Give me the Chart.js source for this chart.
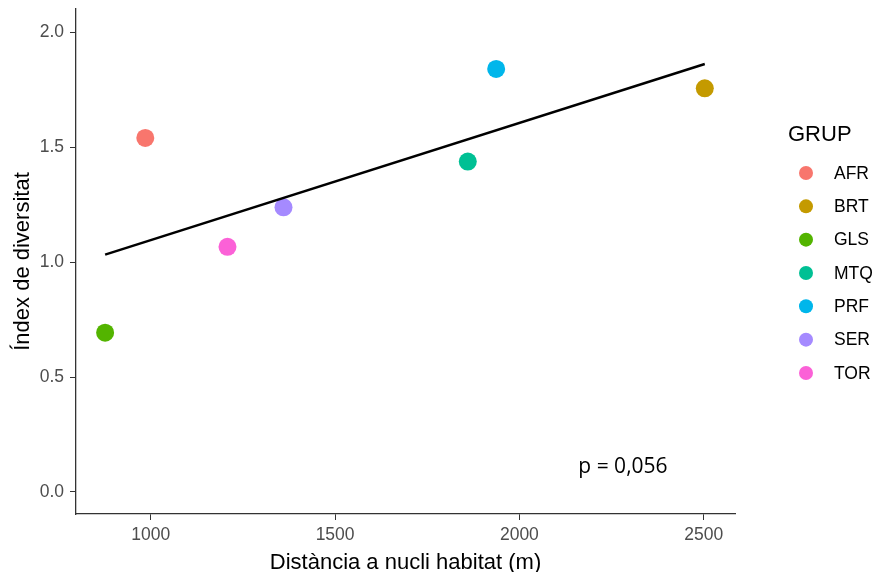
<!DOCTYPE html>
<html>
<head>
<meta charset="utf-8">
<script src="https://cdn.jsdelivr.net/npm/chart.js@4"></script>
<style>
  html, body { margin: 0; padding: 0; background: #fff; }
  #wrap { width: 875px; height: 572px; }
</style>
</head>
<body>
<div id="wrap"><canvas id="chart"></canvas></div>
<script>
const grups = ["AFR", "BRT", "GLS", "MTQ", "PRF", "SER", "TOR"];
const distancia = [985, 2503, 876, 1860, 1937, 1360, 1208];
const diversitat = [1.541, 1.757, 0.693, 1.438, 1.841, 1.239, 1.067];
const colors = ["#F8766D", "#C49A00", "#53B400", "#00C094", "#00B6EB", "#A58AFF", "#FB61D7"];
const xTicks = [1000, 1500, 2000, 2500];
const yTicks = [0, 0.5, 1.0, 1.5, 2.0];
const pLabel = "p = 0,056";

const FONT = "'Liberation Sans', Arial, sans-serif";

// least squares fit for the trend line
const n = distancia.length;
const mx = distancia.reduce((a, b) => a + b, 0) / n;
const my = diversitat.reduce((a, b) => a + b, 0) / n;
let sxy = 0, sxx = 0;
for (let i = 0; i < n; i++) {
  sxy += (distancia[i] - mx) * (diversitat[i] - my);
  sxx += (distancia[i] - mx) ** 2;
}
const slope = sxy / sxx;
const icpt = my - slope * mx;
const xMin = Math.min(...distancia), xMax = Math.max(...distancia);

const datasets = grups.map((g, i) => ({
  type: "scatter",
  label: g,
  data: [{ x: distancia[i], y: diversitat[i] }],
  backgroundColor: colors[i],
  borderWidth: 0,
  pointRadius: 9,
  pointHoverRadius: 9,
  order: 1
}));
datasets.push({
  type: "line",
  label: "fit",
  data: [{ x: xMin, y: icpt + slope * xMin }, { x: xMax, y: icpt + slope * xMax }],
  borderColor: "#000",
  borderWidth: 2.5,
  pointRadius: 0,
  fill: false,
  order: 0
});

// legend on the right + p-value text
const extras = {
  id: "extras",
  afterDraw(chart) {
    const ctx = chart.ctx;
    ctx.save();
    ctx.textBaseline = "middle";
    ctx.textAlign = "left";
    ctx.fillStyle = "#000";
    ctx.font = "22px " + FONT;
    ctx.fillText("GRUP", 788, 135);
    ctx.font = "17.5px " + FONT;
    grups.forEach((g, i) => {
      const y = 173 + i * 33.33;
      ctx.beginPath();
      ctx.fillStyle = colors[i];
      ctx.arc(806, y, 7, 0, Math.PI * 2);
      ctx.fill();
      ctx.fillStyle = "#000";
      ctx.fillText(g, 834, y + 1);
    });
    const xs = chart.scales.x, ys = chart.scales.y;
    ctx.font = "21px 'Open Sans', sans-serif";
    ctx.fillText(pLabel, xs.getPixelForValue(2160), ys.getPixelForValue(0.11));
    ctx.restore();
  }
};

const ctx = document.getElementById("chart").getContext("2d");
new Chart(ctx, {
  type: "scatter",
  data: { datasets },
  options: {
    responsive: true,
    maintainAspectRatio: false,
    animation: false,
    events: [],
    layout: { padding: { left: 0, right: 140, top: 8, bottom: 0 } },
    plugins: { legend: { display: false }, tooltip: { enabled: false } },
    scales: {
      x: {
        type: "linear",
        min: 797,
        max: 2585,
        afterFit: (s) => { s.height = 58; },
        afterBuildTicks: (s) => { s.ticks = xTicks.map(v => ({ value: v })); },
        grid: { drawOnChartArea: false, drawTicks: true, tickLength: 6, color: "#333", lineWidth: 1 },
        border: { display: true, color: "#333", width: 1.3 },
        ticks: { color: "#4D4D4D", font: { family: FONT, size: 17.5 }, padding: 5, callback: (v) => String(v) },
        title: { display: true, text: "Distància a nucli habitat (m)", color: "#000", font: { family: FONT, size: 22 }, padding: { top: 0, bottom: -4 } }
      },
      y: {
        type: "linear",
        min: -0.096,
        max: 2.102,
        // ticks sit inside the range, so no extra room needed above/below
        afterFit: (s) => { s.width = 76; s.paddingTop = 0; s.paddingBottom = 0; },
        afterBuildTicks: (s) => { s.ticks = yTicks.map(v => ({ value: v })); },
        grid: { drawOnChartArea: false, drawTicks: true, tickLength: 6, color: "#333", lineWidth: 1 },
        border: { display: true, color: "#333", width: 1.3 },
        ticks: { color: "#4D4D4D", font: { family: FONT, size: 17.5 }, padding: 6, callback: (v) => v.toFixed(1) },
        title: { display: true, text: "Índex de diversitat", color: "#000", font: { family: FONT, size: 22 }, padding: { top: 10, bottom: 0 } }
      }
    }
  },
  plugins: [extras]
});
</script>
</body>
</html>
